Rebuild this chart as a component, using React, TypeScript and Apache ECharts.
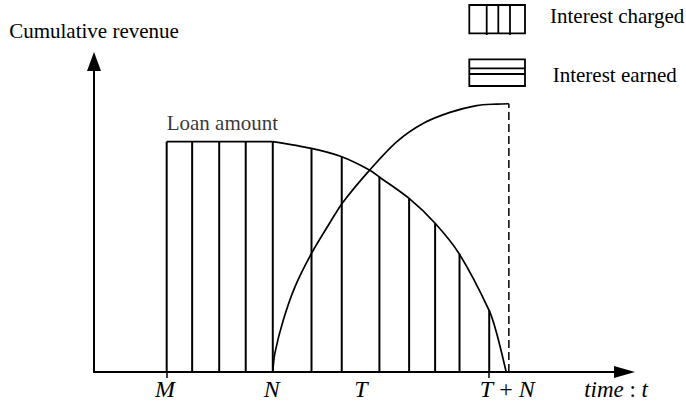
import React, { useEffect, useRef } from 'react';
import * as echarts from 'echarts';

const FONT = 'Liberation Serif, Times New Roman, Times, serif';

// x positions (time units, axis 0..100) of the vertical hatch lines and their heights
const hatchX = [13.7, 18.5, 23.6, 28.6, 33.7, 41.0, 46.7, 53.8, 59.4, 64.3, 68.9, 74.5];
const hatchH = [74.2, 74.2, 74.2, 74.2, 74.2, 72.0, 69.3, 62.8, 55.9, 47.9, 37.9, 19.8];

// Loan amount: flat part then the declining curve
const loanFlatX = [13.7, 33.7];
const loanFlatY = [74.2, 74.2];
const loanCurveX = [33.7, 41.0, 46.7, 52.0, 53.8, 59.4, 64.3, 68.9, 74.5, 75.9, 77.7];
const loanCurveY = [74.2, 72.0, 69.3, 65.0, 62.8, 55.9, 47.9, 37.9, 19.8, 12.5, 0];

// Interest earned curve
const earnedX = [33.7, 34.1, 35.7, 37.9, 41.0, 44.4, 46.9, 52.0, 57.1, 62.1, 67.1, 72.1, 75.9, 78.2];
const earnedY = [0, 6.1, 16.8, 27.5, 38.2, 47.9, 54.6, 65.1, 74.2, 80.1, 83.6, 85.8, 86.3, 86.4];

// dashed drop line at T + N
const dashX = [78.2, 78.2];
const dashY = [0, 86.4];

// axis tick marks and labels
const tickValues = [13.7, 74.5];
const labelValues = [13.4, 33.5, 50.3, 77.9];
const labelTexts = ['{i|M}', '{i|N}', '{i|T}', '{i|T}{n| + }{i|N}'];

const legendNames = ['Interest charged', 'Interest earned'];

const zip = (xs: number[], ys: number[]) => xs.map((x, i) => [x, ys[i]]);

export default function App() {
  const ref = useRef<HTMLDivElement>(null);
  useEffect(() => {
    if (!ref.current) return;
    const chart = echarts.init(ref.current, undefined, { renderer: 'svg' });
    const lineStyle = { color: '#000', width: 1.7 };
    const richLabel = {
      i: { fontFamily: FONT, fontSize: 24, lineHeight: 24, fontStyle: 'italic', color: '#000' },
      n: { fontFamily: FONT, fontSize: 24, lineHeight: 24, fontStyle: 'normal', color: '#000' },
    };
    const richName = {
      i: { fontFamily: FONT, fontSize: 23, lineHeight: 23, fontStyle: 'italic', color: '#000' },
      n: { fontFamily: FONT, fontSize: 23, lineHeight: 23, fontStyle: 'normal', color: '#000' },
    };
    chart.setOption({
      animation: false,
      backgroundColor: '#fff',
      textStyle: { fontFamily: FONT },
      grid: { left: 94, right: 61.5, top: 61.5, bottom: 31, outerBoundsMode: 'none', containLabel: false },
      xAxis: {
        type: 'value',
        min: 0,
        max: 100,
        splitLine: { show: false },
        axisLine: {
          show: true,
          onZero: false,
          symbol: ['none', 'triangle'],
          symbolSize: [12, 21],
          lineStyle: { color: '#000', width: 2 },
        },
        axisTick: {
          show: true,
          customValues: tickValues,
          length: 6,
          inside: false,
          lineStyle: { color: '#000', width: 1.5 },
        },
        axisLabel: {
          show: true,
          customValues: labelValues,
          margin: 5,
          fontFamily: FONT,
          lineHeight: 24,
          formatter: (v: number) => {
            const idx = labelValues.findIndex((lv) => Math.abs(lv - v) < 1e-6);
            return idx >= 0 ? labelTexts[idx] : '';
          },
          rich: richLabel,
        },
        name: '{i|time}{n| : }{i|t}',
        nameLocation: 'end',
        nameGap: 23.5,
        nameTextStyle: { fontFamily: FONT, lineHeight: 23, align: 'right', verticalAlign: 'top', padding: [6, 0, 0, 0], rich: richName },
      },
      yAxis: {
        type: 'value',
        min: 0,
        max: 100,
        splitLine: { show: false },
        axisLine: {
          show: true,
          onZero: false,
          symbol: ['none', 'triangle'],
          symbolSize: [14, 19],
          lineStyle: { color: '#000', width: 2 },
        },
        axisTick: { show: false },
        axisLabel: { show: false },
        name: 'Cumulative revenue',
        nameLocation: 'end',
        nameGap: 20,
        nameTextStyle: { fontFamily: FONT, fontSize: 21, color: '#000' },
      },
      series: [
        {
          type: 'bar',
          data: zip(hatchX, hatchH),
          barWidth: 2,
          itemStyle: { color: '#000' },
          silent: true,
        },
        {
          type: 'line',
          data: zip(loanFlatX, loanFlatY),
          showSymbol: false,
          lineStyle,
        },
        {
          type: 'line',
          data: zip(loanCurveX, loanCurveY),
          showSymbol: false,
          smooth: 0.3,
          lineStyle,
        },
        {
          type: 'line',
          data: zip(earnedX, earnedY),
          showSymbol: false,
          smooth: 0.3,
          lineStyle,
        },
        {
          type: 'line',
          data: zip(dashX, dashY),
          showSymbol: false,
          lineStyle: { color: '#000', width: 1.5, type: [8, 4] },
        },
        {
          type: 'scatter',
          data: [[loanFlatX[0], loanFlatY[0]]],
          symbolSize: 0,
          label: {
            show: true,
            formatter: 'Loan amount',
            position: 'top',
            align: 'left',
            distance: 8,
            fontFamily: FONT,
            fontSize: 21,
            color: '#000',
          },
        },
      ],
      graphic: [
        {
          type: 'group',
          children: [
            { type: 'rect', shape: { x: 469.3, y: 5, width: 55.7, height: 28.3 }, style: { fill: 'none', stroke: '#000', lineWidth: 1.8 } },
            { type: 'line', shape: { x1: 486.7, y1: 5, x2: 486.7, y2: 35 }, style: { stroke: '#000', lineWidth: 1.8 } },
            { type: 'line', shape: { x1: 498.3, y1: 5, x2: 498.3, y2: 33.3 }, style: { stroke: '#000', lineWidth: 1.8 } },
            { type: 'line', shape: { x1: 510, y1: 5, x2: 510, y2: 35 }, style: { stroke: '#000', lineWidth: 1.8 } },
            { type: 'text', x: 550, y: 16.2, style: { text: legendNames[0], fontFamily: FONT, fontSize: 21, fill: '#000', verticalAlign: 'middle', align: 'left' } },
            { type: 'rect', shape: { x: 469.3, y: 59.3, width: 55.7, height: 26.7 }, style: { fill: 'none', stroke: '#000', lineWidth: 1.8 } },
            { type: 'line', shape: { x1: 469.3, y1: 68.3, x2: 525, y2: 68.3 }, style: { stroke: '#000', lineWidth: 1.8 } },
            { type: 'line', shape: { x1: 469.3, y1: 74, x2: 525, y2: 74 }, style: { stroke: '#000', lineWidth: 1.8 } },
            { type: 'text', x: 552.7, y: 74.6, style: { text: legendNames[1], fontFamily: FONT, fontSize: 21, fill: '#000', verticalAlign: 'middle', align: 'left' } },
          ],
        },
      ],
    });
    return () => chart.dispose();
  }, []);
  return <div ref={ref} style={{ width: 686, height: 403, position: 'absolute', left: 0, top: 0 }} />;
}
